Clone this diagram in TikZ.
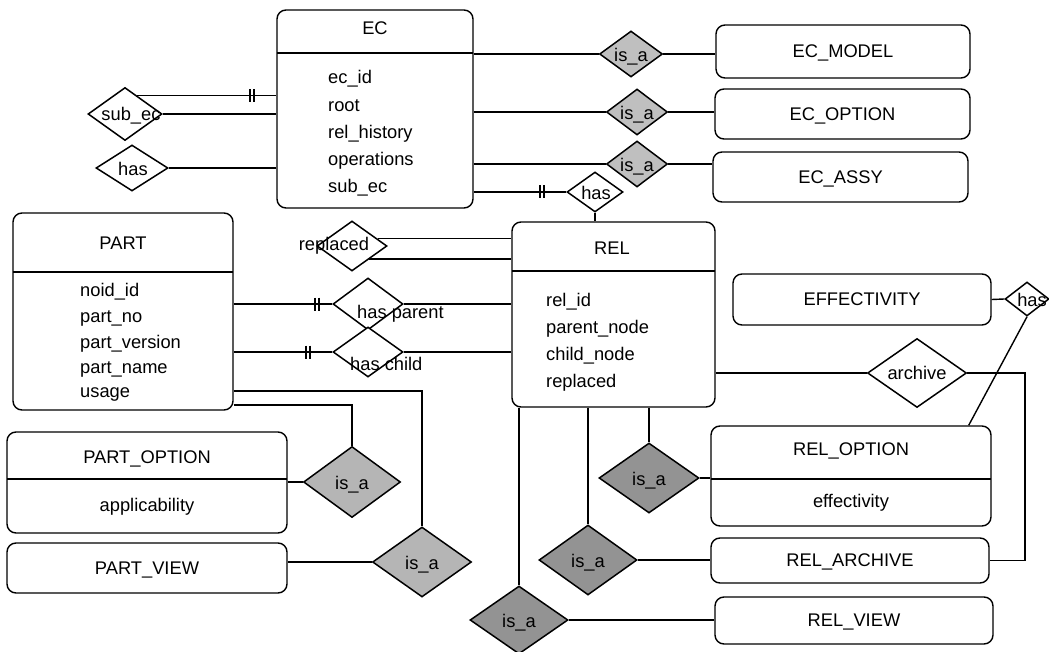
\documentclass[tikz,border=0pt]{standalone}
\usepackage{fontspec}
\setmainfont{Liberation Sans}
\usetikzlibrary{shapes.geometric}
\newcommand\erbars[2]{\draw[ln] (#1-2,#2-6.5) -- (#1-2,#2+6.5) (#1+2,#2-6.5) -- (#1+2,#2+6.5);}
\tikzset{
  ln/.style={line width=1.4pt},
  ent/.style={draw, line width=1.4pt, rounded corners=9pt, inner sep=0pt, text height=12.5pt, text depth=0pt},
  dia/.style={draw, shape=diamond, inner sep=0pt, line width=1.5pt},
  txt/.style={inner sep=0pt, text height=12.5pt, text depth=0pt},
  isaA/.style={dia, fill=gray!50},
  isaB/.style={dia, fill=gray!58},
  isaC/.style={dia, fill=gray!85},
  rl/.style={dia, fill=white},
}
\begin{document}
\begin{tikzpicture}[x=1pt,y=-1pt,font=\fontsize{18.3}{21}\selectfont]
\useasboundingbox (0,0) rectangle (1049,652);

% ---------------- EC
\node[ent, minimum width=196pt, minimum height=198pt] (ec) at (375,109) {};
\draw[ln] (277,53) -- (473,53);
\node[txt] (ect) at (375,28) {EC};
\node[txt,anchor=west] (eca1) at (328,77) {ec\_id};
\node[txt,anchor=west] (eca2) at (328,105) {root};
\node[txt,anchor=west] (eca3) at (328,132) {rel\_history};
\node[txt,anchor=west] (eca4) at (328,159) {operations};
\node[txt,anchor=west] (eca5) at (328,186) {sub\_ec};

% EC subtypes
\node[ent, minimum width=254pt, minimum height=53pt] (ecm) at (843,51.5) {EC\_MODEL};
\node[ent, minimum width=255pt, minimum height=50pt] (eco) at (842.5,114) {EC\_OPTION};
\node[ent, minimum width=255pt, minimum height=50pt] (ecy) at (840.5,177) {EC\_ASSY};

\node[isaA, minimum width=63pt, minimum height=46pt] (i1) at (631,54) {};
\node[txt] (i1t) at (631,55) {is\_a};
\node[isaA, minimum width=61pt, minimum height=46pt] (i2) at (637,112) {};
\node[txt] (i2t) at (637,113) {is\_a};
\node[isaA, minimum width=61pt, minimum height=46pt] (i3) at (637,164) {};
\node[txt] (i3t) at (637,165) {is\_a};

\draw[ln] (i1.west -| ec.east) -- (i1.west);
\draw[ln] (i1.east) -- (i1.east -| ecm.west);
\draw[ln] (i2.west -| ec.east) -- (i2.west);
\draw[ln] (i2.east) -- (i2.east -| eco.west);
\draw[ln] (i3.west -| ec.east) -- (i3.west);
\draw[ln] (i3.east) -- (i3.east -| ecy.west);

% EC -- has -- REL
\node[rl, minimum width=56pt, minimum height=40pt] (hasrel) at (595,192) {};
\node[txt] (hasrelt) at (596,193) {has};
\draw[ln] (hasrel.west -| ec.east) -- (hasrel.west);
\erbars{542}{192}

% EC left relationships
\node[rl, minimum width=74pt, minimum height=53pt] (sube) at (125,114) {};
\node[txt] (subet) at (131,114) {sub\_ec};
\node[rl, minimum width=72pt, minimum height=46pt] (hasec) at (132,168) {};
\node[txt] (hasect) at (133,169) {has};
\draw[ln] (sube.58) -- (sube.58 -| ec.west);
\erbars{252}{95.7}
\draw[ln] (sube.east) -- (sube.east -| ec.west);
\draw[ln] (hasec.east) -- (hasec.east -| ec.west);

% ---------------- REL
\node[ent, minimum width=203pt, minimum height=185pt] (rel) at (613.5,314.5) {};
\draw[ln] (512,271) -- (715,271);
\node[txt] (relt) at (612,248) {REL};
\node[txt,anchor=west] (rela1) at (546,300) {rel\_id};
\node[txt,anchor=west] (rela2) at (546,327) {parent\_node};
\node[txt,anchor=west] (rela3) at (546,354) {child\_node};
\node[txt,anchor=west] (rela4) at (546,381) {replaced};
\draw[ln] (hasrel.south) -- (hasrel.south |- rel.north);

% replaced
\node[rl, minimum width=70pt, minimum height=50pt] (repl) at (352,246) {};
\node[txt] (replt) at (334,244) {replaced};
\draw[ln] (repl.16) -- (repl.16 -| rel.west);
\draw[ln] (repl.-37) -- (repl.-37 -| rel.west);

% ---------------- PART
\node[ent, minimum width=220pt, minimum height=197pt] (part) at (123,311.5) {};
\draw[ln] (13,272) -- (233,272);
\node[txt] (partt) at (123,243) {PART};
\node[txt,anchor=west] (parta1) at (80,290) {noid\_id};
\node[txt,anchor=west] (parta2) at (80,316) {part\_no};
\node[txt,anchor=west] (parta3) at (80,342) {part\_version};
\node[txt,anchor=west] (parta4) at (80,367) {part\_name};
\node[txt,anchor=west] (parta5) at (80,391) {usage};

% has parent / has child
\node[rl, minimum width=70pt, minimum height=52pt] (hp) at (368,304) {};
\node[txt,anchor=west] (hpt) at (357,312) {has parent};
\draw[ln] (hp.west -| part.east) -- (hp.west);
\erbars{317}{304}
\draw[ln] (hp.east) -- (hp.east -| rel.west);

\node[rl, minimum width=70pt, minimum height=50pt] (hc) at (368,352) {};
\node[txt,anchor=west] (hct) at (350,364) {has child};
\draw[ln] (hc.west -| part.east) -- (hc.west);
\erbars{308}{352}
\draw[ln] (hc.east) -- (hc.east -| rel.west);

% PART subtypes
\node[ent, minimum width=280pt, minimum height=101pt] (po) at (147,482.5) {};
\draw[ln] (7,479) -- (287,479);
\node[txt] (pot) at (147,457) {PART\_OPTION};
\node[txt] (poa) at (147,505) {applicability};
\node[ent, minimum width=280pt, minimum height=50pt] (pv) at (147,568) {PART\_VIEW};

\node[isaB, minimum width=97pt, minimum height=71pt] (ipo) at (352,482) {};
\node[txt] (ipot) at (352,483) {is\_a};
\node[isaB, minimum width=99pt, minimum height=70pt] (ipv) at (422,562) {};
\node[txt] (ipvt) at (422,563) {is\_a};
\draw[ln] (ipo.west) -- (ipo.west -| po.east);
\draw[ln] (ipv.west) -- (ipv.west -| pv.east);
\coordinate (u1) at (0,391);
\coordinate (u2) at (0,405);
\draw[ln] (part.east |- u1) -| (ipv.north);
\draw[ln] (part.east |- u2) -| (ipo.north);

% ---------------- REL subtypes
\node[ent, minimum width=280pt, minimum height=100pt] (ro) at (851,476) {};
\draw[ln] (711,479) -- (991,479);
\node[txt] (rot) at (851,449) {REL\_OPTION};
\node[txt] (roa) at (851,501) {effectivity};
\node[ent, minimum width=278pt, minimum height=45pt] (ra) at (850,560.5) {REL\_ARCHIVE};
\node[ent, minimum width=278pt, minimum height=47pt] (rv) at (854,620.5) {REL\_VIEW};

\node[isaC, minimum width=100pt, minimum height=70pt] (iro) at (649,478) {};
\node[txt] (irot) at (649,479) {is\_a};
\node[isaC, minimum width=98pt, minimum height=70pt] (ira) at (588,560) {};
\node[txt] (irat) at (588,561) {is\_a};
\node[isaC, minimum width=98pt, minimum height=68pt] (irv) at (519,620) {};
\node[txt] (irvt) at (519,621) {is\_a};
\draw[ln] (rel.south -| iro.north) -- (iro.north);
\draw[ln] (rel.south -| ira.north) -- (ira.north);
\draw[ln] (rel.south -| irv.north) -- (irv.north);
\draw[ln] (iro.east) -- (iro.east -| ro.west);
\draw[ln] (ira.east) -- (ira.east -| ra.west);
\draw[ln] (irv.east) -- (irv.east -| rv.west);

% archive
\node[rl, minimum width=99pt, minimum height=69pt] (arch) at (917,373) {};
\node[txt] (archt) at (917,373) {archive};
\draw[ln] (arch.west -| rel.east) -- (arch.west);
\coordinate (c1) at (1025,560.5);
\draw[ln] (arch.east) -| (c1) -- (ra.east);

% effectivity
\node[ent, minimum width=258pt, minimum height=51pt] (eff) at (862,299.5) {EFFECTIVITY};
\node[rl, minimum width=44pt, minimum height=34pt] (has2) at (1027,299) {};
\node[txt] (has2t) at (1032,300) {has};
\draw[ln] (eff.east) -- (has2.west);
\draw[ln] (has2.south) -- ([xshift=-23pt]ro.north east);
\end{tikzpicture}
\end{document}
